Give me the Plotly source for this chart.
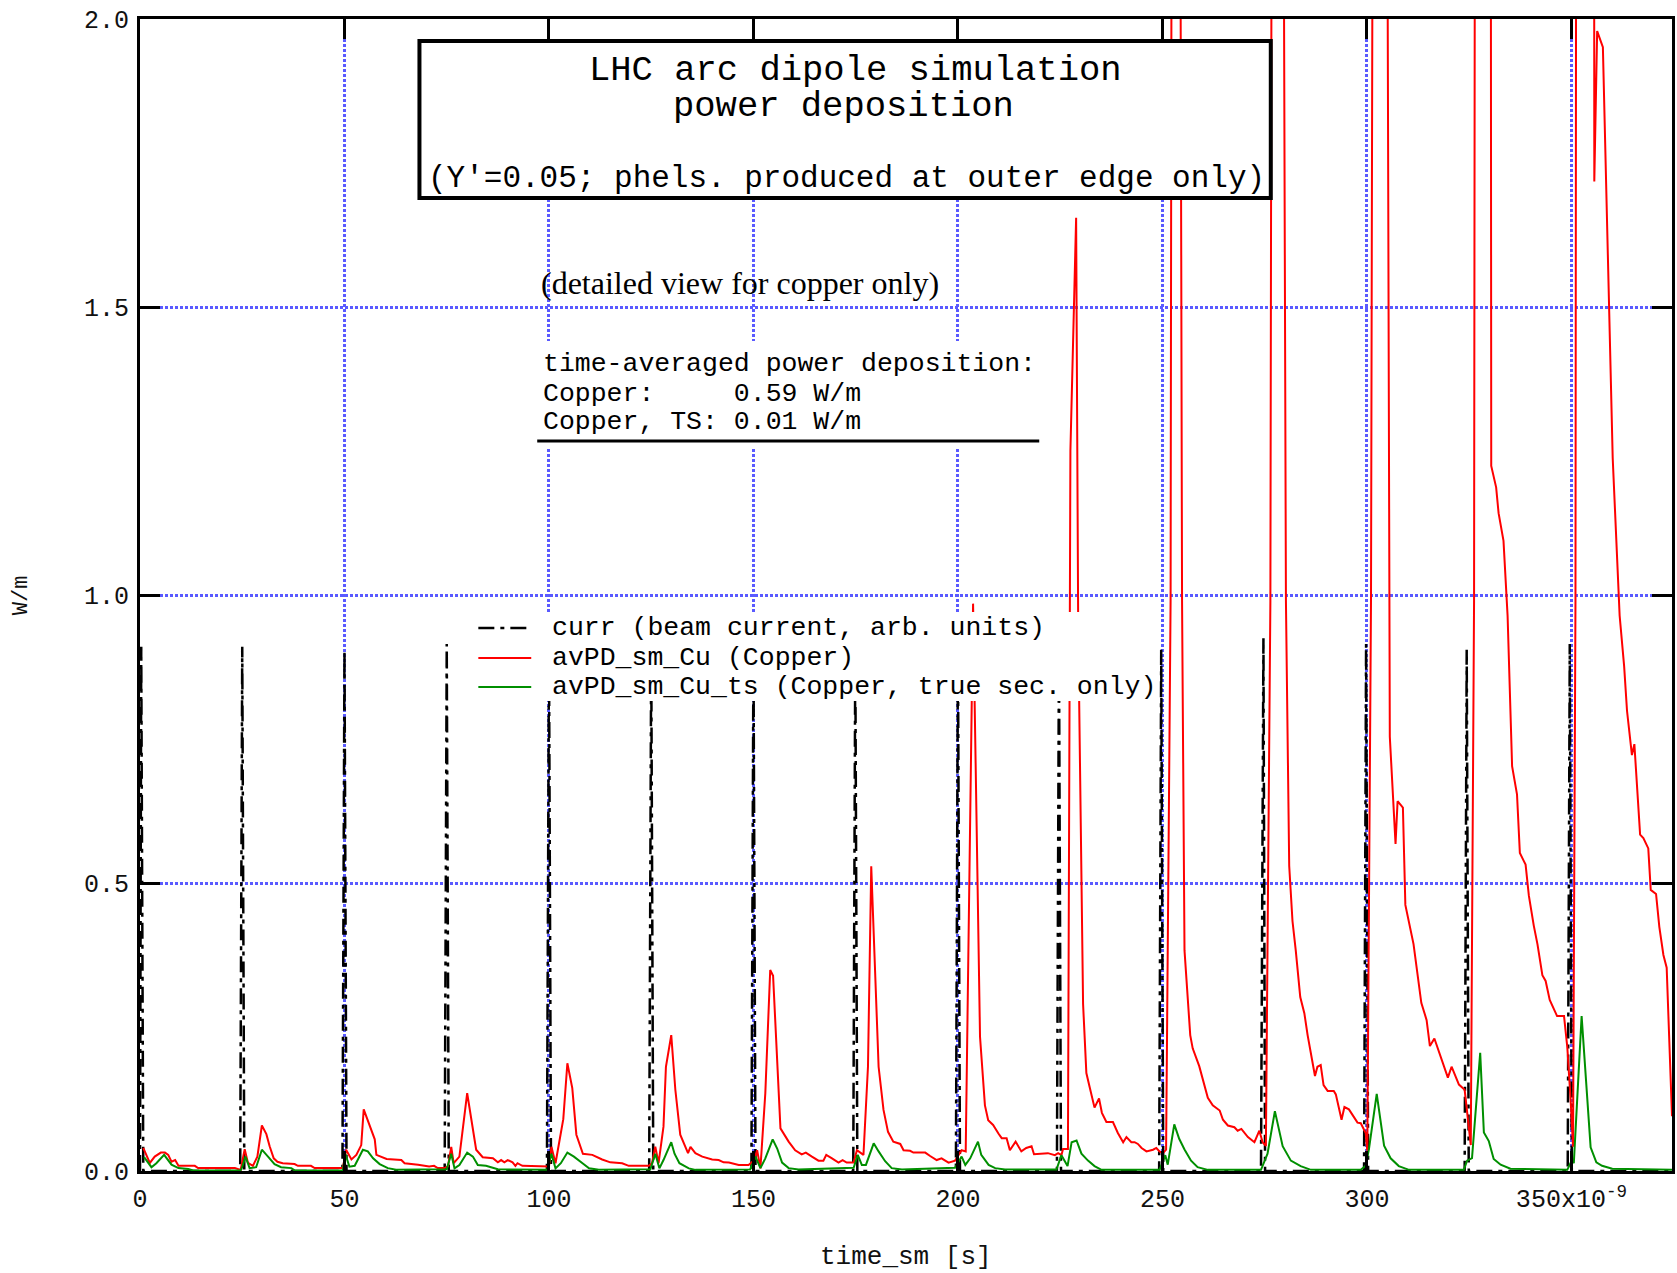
import plotly.graph_objects as go

# ---- time axis values are in units of 1e-9 s ----

# beam current (arb. units), one narrow pulse per bunch
curr_time = [0.0, 0.3, 0.8,
             24.5, 25.0, 25.5,
             49.5, 50.0, 50.5,
             74.5, 75.0, 75.5,
             99.5, 100.0, 100.5,
             124.5, 125.0, 125.5,
             149.5, 150.0, 150.5,
             174.4, 174.9, 175.4,
             199.5, 200.0, 200.5,
             224.2, 224.7, 225.2,
             249.2, 249.7, 250.2,
             274.1, 274.7, 275.1,
             299.3, 299.8, 300.3,
             323.9, 324.4, 324.9,
             349.1, 349.6, 350.1,
             374.6]
curr_val = [0, 0.91, 0,
            0, 0.91, 0,
            0, 0.905, 0,
            0, 0.915, 0,
            0, 0.91, 0,
            0, 0.91, 0,
            0, 0.91, 0,
            0, 0.91, 0,
            0, 0.91, 0,
            0, 0.91, 0,
            0, 0.905, 0,
            0, 0.925, 0,
            0, 0.915, 0,
            0, 0.905, 0,
            0, 0.915, 0,
            0]

# avPD_sm_Cu : copper, all electrons (W/m)
cu_time = [0.8, 2.4, 3.6, 5.1, 6.1, 6.9, 7.7, 8.6, 9.4, 13.4, 14.2, 23.2, 24.6,
           25.6, 26.4, 27.6, 28.7, 29.8, 30.9, 31.7, 32.7, 33.6, 34.9, 37.8, 38.6, 41.8, 42.7, 49.6,
           50.4, 51.7, 52.9, 54.1, 54.7, 57.4, 57.8, 59.0, 60.3, 63.9, 64.7, 68.0, 70.7, 71.9, 72.8, 74.4,
           75.3, 76.1, 76.7, 78.1, 80.0, 82.2, 83.8, 86.3, 87.5, 88.3, 89.1, 89.9, 91.1, 91.8, 92.3, 93.5, 99.2,
           100.0, 100.6, 101.6, 103.5, 104.5, 105.7, 106.7, 108.3, 110.6, 113.0, 115.0, 117.9, 119.5, 124.4,
           125.2, 126.0, 126.8, 128.0, 128.6, 129.9, 130.9, 132.1, 133.4, 134.0, 134.6, 135.8, 137.5, 139.9,
           141.5, 142.7, 144.0, 146.4, 148.8,
           150.1, 150.9, 151.7, 152.9, 154.1, 154.8, 156.2, 156.6, 158.6, 160.2, 161.8, 162.8, 164.3, 165.9,
           167.1, 167.8, 169.2, 170.8, 171.8, 172.8, 174.5,
           175.3, 176.9, 178.0, 178.8, 180.6, 181.8, 182.9, 184.2, 185.9, 186.7, 188.3, 189.1, 192.0, 193.2,
           194.8, 196.0, 197.7, 199.3,
           200.1, 200.9, 201.9, 203.7, 205.4, 206.6, 207.4, 208.6, 209.9, 210.7, 211.9, 212.7, 214.1, 215.5,
           216.7, 218.0, 218.6, 222.0, 223.7, 224.5, 225.3,
           225.7, 226.9, 227.3, 227.5, 228.9, 229.4, 230.6, 231.4, 232.2, 233.4, 234.5, 235.2, 236.3, 237.9,
           239.1, 240.4, 241.2, 242.4, 243.2, 244.0, 244.9, 246.1, 247.7, 248.5, 249.3, 250.1, 250.9,
           252.0, 252.5, 254.0, 254.8, 255.4, 256.8, 257.4, 259.0, 259.9, 261.1, 262.3, 264.0, 264.8, 266.0,
           267.6, 268.4, 269.3, 270.9, 272.5, 273.7, 274.5, 275.3,
           276.4, 277.0, 279.2, 280.2, 281.0, 281.8, 282.6, 283.7, 284.7, 285.5, 287.3, 287.9, 288.7, 289.4,
           290.4, 291.9, 292.4, 293.8, 294.5, 295.6, 297.7, 298.5, 299.7, 300.1,
           301.0, 301.8, 304.6, 305.4, 305.6, 307.0, 307.5, 308.8, 309.4, 311.4, 313.3, 314.6, 315.4, 316.5,
           318.6, 319.8, 320.7, 322.5, 323.3, 323.9, 325.4,
           326.2, 326.6, 330.2, 330.4, 331.6, 332.2, 333.4, 334.4, 335.5, 336.7, 337.4, 338.8, 339.6, 340.8,
           341.7, 342.9, 343.7, 344.7, 346.5, 348.2, 349.0, 349.8, 350.4,
           351.0, 351.3, 355.5, 355.6, 356.3, 357.7, 360.1, 361.8, 362.9, 363.6, 364.8, 365.4, 366.8, 367.6,
           368.8, 369.4, 370.7, 371.5, 372.5, 373.3, 374.6]
cu_wm = [0.040, 0.014, 0.025, 0.032, 0.032, 0.028, 0.016, 0.019, 0.009, 0.009, 0.005, 0.005, 0.002,
         0.038, 0.014, 0.009, 0.025, 0.079, 0.064, 0.043, 0.022, 0.016, 0.0135, 0.012, 0.009, 0.009, 0.005, 0.005,
         0.037, 0.020, 0.028, 0.045, 0.107, 0.055, 0.028, 0.025, 0.021, 0.019, 0.0135, 0.011, 0.008, 0.009, 0.005, 0.005,
         0.008, 0.042, 0.0135, 0.025, 0.135, 0.037, 0.024, 0.022, 0.015, 0.019, 0.015, 0.019, 0.015, 0.009, 0.0135, 0.009, 0.009,
         0.008, 0.042, 0.0135, 0.09, 0.187, 0.144, 0.063, 0.030, 0.028, 0.020, 0.015, 0.0135, 0.009, 0.009,
         0.0135, 0.042, 0.0135, 0.077, 0.181, 0.236, 0.141, 0.063, 0.042, 0.031, 0.042, 0.031, 0.025, 0.020,
         0.019, 0.015, 0.0146, 0.0105, 0.0105,
         0.018, 0.036, 0.0045, 0.135, 0.349, 0.339, 0.152, 0.074, 0.051, 0.036, 0.029, 0.032, 0.025, 0.018,
         0.018, 0.028, 0.022, 0.0146, 0.019, 0.0146, 0.0146,
         0.036, 0.028, 0.181, 0.529, 0.181, 0.106, 0.068, 0.051, 0.047, 0.036, 0.035, 0.032, 0.032, 0.026,
         0.019, 0.022, 0.0146, 0.018,
         0.028, 0.036, 0.034, 0.985, 0.233, 0.114, 0.088, 0.080, 0.065, 0.057, 0.057, 0.036, 0.051, 0.034,
         0.040, 0.043, 0.029, 0.031, 0.0275, 0.031, 0.0275,
         0.038, 0.038, 0.98, 1.25, 1.655, 0.95, 0.29, 0.17, 0.146, 0.110, 0.126, 0.101, 0.085, 0.085,
         0.066, 0.050, 0.059, 0.050, 0.050, 0.047, 0.040, 0.034, 0.037, 0.040, 0.034, 0.031, 0.037,
         0.99, 3.6, 3.4, 0.99, 0.383, 0.236, 0.213, 0.182, 0.159, 0.127, 0.114, 0.105, 0.089, 0.079,
         0.076, 0.070, 0.073, 0.059, 0.050, 0.070, 0.050, 0.0435,
         0.99, 3.5, 3.2, 0.99, 0.53, 0.434, 0.383, 0.302, 0.274, 0.236, 0.165, 0.181, 0.184, 0.149,
         0.139, 0.139, 0.133, 0.089, 0.111, 0.107, 0.084, 0.083, 0.066, 0.035,
         0.99, 3.5, 3.2, 0.99, 0.754, 0.568, 0.642, 0.631, 0.462, 0.394, 0.292, 0.262, 0.217, 0.230,
         0.185, 0.162, 0.181, 0.150, 0.145, 0.141, 0.045,
         0.99, 3.5, 3.2, 1.224, 1.187, 1.142, 1.094, 0.964, 0.703, 0.654, 0.552, 0.532, 0.478, 0.426,
         0.394, 0.340, 0.330, 0.297, 0.269, 0.269, 0.215, 0.125, 0.042,
         0.99, 3.3, 2.9, 1.718, 1.979, 1.951, 1.238, 0.964, 0.876, 0.799, 0.722, 0.741, 0.584, 0.578,
         0.560, 0.488, 0.481, 0.424, 0.375, 0.353, 0.095]

# avPD_sm_Cu_ts : copper, true secondaries only (W/m)
ts_time = [1.0, 2.8, 4.0, 5.9, 7.7, 9.4, 11.8, 13.0, 24.5,
           24.8, 25.8, 26.8, 28.4, 29.8, 31.3, 32.9, 34.5, 37.0, 37.8, 49.6,
           50.2, 51.2, 52.5, 53.4, 54.5, 55.7, 57.0, 58.6, 60.6, 62.6, 75.0,
           76.1, 76.9, 78.1, 80.0, 81.4, 82.6, 84.6, 87.5, 99.6,
           100.6, 101.6, 102.9, 104.5, 106.1, 108.2, 109.8, 112.2, 124.8,
           126.0, 127.0, 128.0, 129.9, 130.7, 131.9, 134.2, 135.8, 149.2,
           150.5, 151.7, 152.9, 154.7, 155.8, 157.0, 158.6, 161.0, 174.5,
           175.5, 176.5, 177.5, 179.4, 180.6, 182.2, 183.8, 186.3, 199.3,
           200.9, 201.8, 203.0, 204.9, 205.7, 207.5, 209.1, 211.5, 224.1,
           225.3, 226.8, 227.8, 229.0, 230.2, 231.8, 233.4, 235.1, 249.3,
           250.7, 251.3, 252.9, 254.1, 255.4, 257.0, 258.6, 261.1, 274.1,
           275.7, 277.5, 279.4, 281.4, 283.8, 286.3, 298.5,
           299.7, 300.5, 302.4, 304.2, 305.8, 307.8, 310.3, 323.7,
           324.5, 325.7, 327.7, 328.6, 329.8, 331.0, 332.7, 335.1, 349.0,
           349.8, 350.6, 352.5, 354.7, 356.1, 357.5, 360.0, 374.6]
ts_wm = [0.024, 0.0066, 0.0135, 0.028, 0.011, 0.005, 0.0035, 0.001, 0.001,
         0.003, 0.025, 0.005, 0.0066, 0.037, 0.025, 0.012, 0.0066, 0.005, 0.001, 0.001,
         0.030, 0.0076, 0.009, 0.022, 0.037, 0.034, 0.022, 0.012, 0.005, 0.002, 0.003,
         0.030, 0.0046, 0.0105, 0.032, 0.025, 0.0105, 0.009, 0.003, 0.002,
         0.030, 0.0046, 0.0135, 0.032, 0.025, 0.0135, 0.0046, 0.002, 0.003,
         0.030, 0.0046, 0.019, 0.050, 0.030, 0.0135, 0.0046, 0.002, 0.0026,
         0.025, 0.005, 0.022, 0.055, 0.039, 0.0146, 0.005, 0.0026, 0.0055,
         0.028, 0.0105, 0.0105, 0.048, 0.034, 0.017, 0.005, 0.0026, 0.0055,
         0.025, 0.0105, 0.022, 0.051, 0.028, 0.0105, 0.005, 0.0026, 0.0026,
         0.0275, 0.0085, 0.050, 0.053, 0.030, 0.018, 0.0085, 0.002, 0.002,
         0.0275, 0.011, 0.081, 0.056, 0.0375, 0.018, 0.0066, 0.002, 0.002,
         0.030, 0.104, 0.043, 0.018, 0.0085, 0.002, 0.002,
         0.009, 0.038, 0.134, 0.044, 0.022, 0.0085, 0.002, 0.002,
         0.018, 0.0225, 0.205, 0.067, 0.052, 0.021, 0.011, 0.004, 0.002,
         0.014, 0.015, 0.269, 0.041, 0.015, 0.009, 0.004, 0.002]

x_ticks = [0, 50, 100, 150, 200, 250, 300, 350]
x_tick_text = ["0", "50", "100", "150", "200", "250", "300", "350x10<sup>-9</sup>"]
y_ticks = [0.0, 0.5, 1.0, 1.5, 2.0]
y_tick_text = ["0.0", "0.5", "1.0", "1.5", "2.0"]

legend_labels = ["curr (beam current, arb. units)",
                 "avPD_sm_Cu (Copper)",
                 "avPD_sm_Cu_ts (Copper, true sec. only)"]
title_lines = ["LHC arc dipole simulation", "power deposition",
               "(Y'=0.05; phels. produced at outer edge only)"]
note_text = "(detailed view for copper only)"
avg_lines = ["time-averaged power deposition:",
             "Copper:    \u00a00.59 W/m",
             "Copper, TS: 0.01 W/m"]

MONO = "Liberation Mono, Courier New, monospace"
SERIF = "Liberation Serif, Times New Roman, serif"
CURR_DASH = "16px,6px,4px,6px"
RED = "#ff0000"
GREEN = "#008f00"
GRID = "#5a5aff"

W, H = 1677, 1273
L, R, T, B = 140, 2, 19, 102
PW, PH = W - L - R, H - T - B


def px(x):
    return (x - L) / PW


def py(y):
    return 1 - (y - T) / PH


fig = go.Figure()
fig.add_trace(go.Scatter(x=curr_time, y=curr_val, mode="lines", name=legend_labels[0],
                         line=dict(color="black", width=2.5, dash=CURR_DASH)))
fig.add_trace(go.Scatter(x=cu_time, y=cu_wm, mode="lines", name=legend_labels[1],
                         line=dict(color=RED, width=2)))
fig.add_trace(go.Scatter(x=ts_time, y=ts_wm, mode="lines", name=legend_labels[2],
                         line=dict(color=GREEN, width=2)))

axis_common = dict(showline=True, linewidth=3, linecolor="black", mirror="ticks",
                   ticks="inside", ticklen=20, tickwidth=3, tickcolor="black",
                   showgrid=True, gridcolor=GRID, gridwidth=3, griddash="3px,2px",
                   zeroline=False, tickfont=dict(family=MONO, size=25, color="#111"))

fig.update_xaxes(range=[0, 374.6], tickmode="array", tickvals=x_ticks, ticktext=x_tick_text,
                 ticklabelstandoff=3, **axis_common)
fig.update_yaxes(range=[0, 2.0], tickmode="array", tickvals=y_ticks, ticktext=y_tick_text,
                 ticklabelstandoff=3, **axis_common)

shapes = []
# title frame
shapes.append(dict(type="rect", xref="paper", yref="paper", layer="above",
                   x0=px(420), x1=px(1273), y0=py(198), y1=py(41),
                   fillcolor="white", line=dict(color="black", width=4)))
# background and rule under the averages block
shapes.append(dict(type="rect", xref="paper", yref="paper", layer="above",
                   x0=px(538), x1=px(1041), y0=py(447), y1=py(341),
                   fillcolor="white", line=dict(width=0)))
shapes.append(dict(type="line", xref="paper", yref="paper", layer="above",
                   x0=px(538), x1=px(1041), y0=py(441), y1=py(441),
                   line=dict(color="black", width=3)))
# legend box
shapes.append(dict(type="rect", xref="paper", yref="paper", layer="above",
                   x0=px(471), x1=px(1161), y0=py(701), y1=py(612),
                   fillcolor="white", line=dict(width=0)))
legend_rows = [628, 658, 687]
legend_styles = [dict(color="black", width=2.5, dash=CURR_DASH),
                 dict(color=RED, width=2), dict(color=GREEN, width=2)]
for yy, st in zip(legend_rows, legend_styles):
    shapes.append(dict(type="line", xref="paper", yref="paper", layer="above",
                       x0=px(479), x1=px(532), y0=py(yy), y1=py(yy), line=st))

annotations = []
title_pos = [(857, 70, 35.5), (845, 106, 35.5), (848, 178, 31)]
for txt, (cx, cy, fs) in zip(title_lines, title_pos):
    annotations.append(dict(text=txt, xref="paper", yref="paper", x=px(cx), y=py(cy),
                            xanchor="center", yanchor="middle", showarrow=False,
                            font=dict(family=MONO, size=fs, color="black")))
annotations.append(dict(text=note_text, xref="paper", yref="paper", x=px(540), y=py(283),
                        xanchor="left", yanchor="middle", showarrow=False,
                        font=dict(family=SERIF, size=32, color="black")))
for txt, cy in zip(avg_lines, [364, 394, 422]):
    annotations.append(dict(text=txt, xref="paper", yref="paper", x=px(542), y=py(cy),
                            xanchor="left", yanchor="middle", showarrow=False,
                            font=dict(family=MONO, size=26.5, color="black")))
for txt, cy in zip(legend_labels, legend_rows):
    annotations.append(dict(text=txt, xref="paper", yref="paper", x=px(551), y=py(cy),
                            xanchor="left", yanchor="middle", showarrow=False,
                            font=dict(family=MONO, size=26.5, color="black")))
# axis titles
annotations.append(dict(text="W/m", xref="paper", yref="paper", x=px(21), y=0.5,
                        xanchor="center", yanchor="middle", showarrow=False, textangle=-90,
                        font=dict(family=MONO, size=22, color="#111")))
annotations.append(dict(text="time_sm [s]", xref="paper", yref="paper", x=px(907), y=py(1257),
                        xanchor="center", yanchor="middle", showarrow=False,
                        font=dict(family=MONO, size=26, color="#111")))

fig.update_layout(width=W, height=H, margin=dict(l=L, r=R, t=T, b=B),
                  paper_bgcolor="white", plot_bgcolor="white", showlegend=False,
                  shapes=shapes, annotations=annotations)

fig.write_html("out.html")
